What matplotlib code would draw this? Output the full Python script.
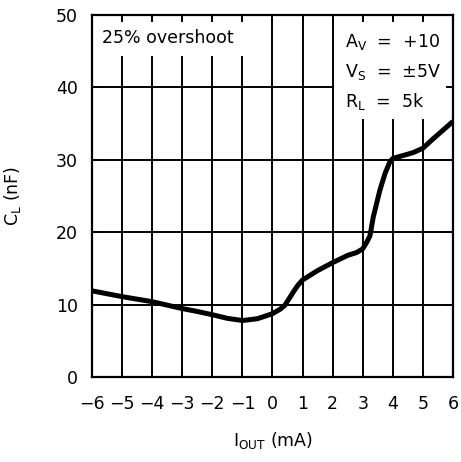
import matplotlib
matplotlib.use('Agg')
import matplotlib.pyplot as plt
from matplotlib.patches import Rectangle

plt.rcParams['font.family'] = 'DejaVu Sans'
plt.rcParams['mathtext.default'] = 'regular'

# curve
i_out = [-6.0, -5.0, -4.0, -3.0, -2.5, -2.0, -1.5, -1.0, -0.5, 0.0, 0.25, 0.4,
         0.58, 0.7, 0.85, 1.0, 1.5, 2.0, 2.5, 2.8, 3.0, 3.13, 3.24, 3.35, 3.57,
         3.74, 3.9, 4.0, 4.35, 4.68, 5.0, 5.34, 5.67, 6.0]
c_load = [11.9, 11.1, 10.4, 9.45, 9.05, 8.6, 8.1, 7.8, 8.05, 8.75, 9.35, 9.85,
          11.0, 11.8, 12.7, 13.4, 14.7, 15.8, 16.8, 17.2, 17.7, 18.6, 19.5, 22.1, 25.8,
          28.1, 29.7, 30.2, 30.6, 31.0, 31.6, 32.9, 34.1, 35.3]

x_ticks = list(range(-6, 7))
y_ticks = [0, 10, 20, 30, 40, 50]

fig = plt.figure(figsize=(4.61, 4.62), dpi=100)
ax = fig.add_axes([0.1996, 0.184, 0.7830, 0.7835])
ax.set_xlim(-6, 6)
ax.set_ylim(0, 50)

# grid lines drawn by hand so the label boxes can sit on top of them
for xv in x_ticks[1:-1]:
    ax.axvline(xv, color='black', lw=1.4, zorder=1)
for yv in y_ticks[1:-1]:
    ax.axhline(yv, color='black', lw=1.4, zorder=1)

# white boxes behind the labels
ax.add_patch(Rectangle((-6, 44.4), 5.4, 4.85, facecolor='white', edgecolor='none', zorder=1.5))
ax.add_patch(Rectangle((2.03, 35.7), 3.8, 13.55, facecolor='white', edgecolor='none', zorder=1.5))

ax.plot(i_out, c_load, color='black', lw=3.6, solid_capstyle='butt',
        solid_joinstyle='round', zorder=3)

ax.set_axisbelow(False)
ax.set_xticks(x_ticks)
ax.set_yticks(y_ticks)
ax.set_xticklabels([str(v).replace('-', '\u2212') for v in x_ticks])
ax.tick_params(direction='in', length=5, width=1.4, top=True, right=True,
               labelsize=12.5)
ax.tick_params(axis='x', pad=13)
ax.tick_params(axis='y', pad=10)
for sp in ax.spines.values():
    sp.set_linewidth(1.6)

ax.set_xlabel(r'I$_{OUT}$ (mA)', fontsize=12.5, labelpad=12)
ax.set_ylabel(r'C$_L$ (nF)', fontsize=12.5)
ax.yaxis.set_label_coords(-0.19, 0.5)

ax.text(-5.67, 46.8, '25% overshoot', fontsize=12.5, va='center', ha='left', zorder=4)
ax.text(2.4, 45.6, r'A$_V$  =  +10', fontsize=12.5, va='baseline', ha='left', zorder=4)
ax.text(2.4, 41.4, r'V$_S$  =  ±5V', fontsize=12.5, va='baseline', ha='left', zorder=4)
ax.text(2.4, 37.3, r'R$_L$  =  5k', fontsize=12.5, va='baseline', ha='left', zorder=4)

fig.savefig('out.png', dpi=100)
